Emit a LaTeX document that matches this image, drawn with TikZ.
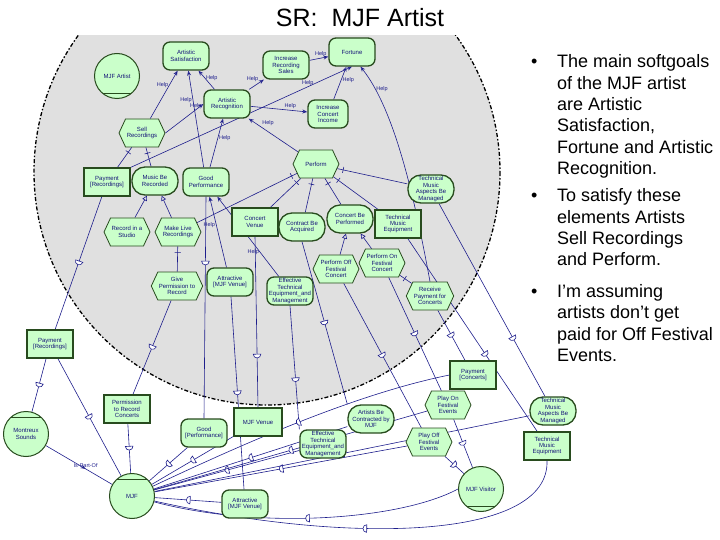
\documentclass[tikz,border=0pt]{standalone}
\usepackage{fontspec}
\setmainfont{Liberation Sans}
\usetikzlibrary{arrows.meta,shapes.symbols,decorations.markings}

\definecolor{nodefill}{RGB}{202,255,202}
\definecolor{nodeline}{RGB}{40,75,30}
\definecolor{nodetext}{RGB}{20,20,120}
\definecolor{linkblue}{RGB}{30,30,140}
\definecolor{bggray}{RGB}{224,224,224}

\pgfdeclarelayer{bg}
\pgfdeclarelayer{links}
\pgfsetlayers{bg,links,main}

\begin{document}
\begin{tikzpicture}[x=1pt, y=-1pt,
  elem/.style={draw=nodeline, fill=nodefill, text=nodetext, align=center, font=\fontsize{6}{6.4}\selectfont, inner sep=1pt, minimum width=46pt, minimum height=28pt},
  softgoal/.style={elem, rectangle, rounded corners=7pt, line width=1.3pt},
  goal/.style={elem, rectangle, rounded corners=13pt, line width=1.3pt},
  resource/.style={elem, rectangle, line width=1.1pt},
  task/.style={elem, signal, signal to=east and west, signal pointer angle=130, line width=0.8pt},
  actor/.style={elem, circle, minimum size=45pt, line width=1pt},
  role/.style={actor, path picture={\draw[draw=nodeline, line width=1pt] ([yshift=5pt]path picture bounding box.south west) -- ([yshift=5pt]path picture bounding box.south east);}},
  agent/.style={actor, path picture={\draw[draw=nodeline, line width=1pt] ([yshift=-6pt]path picture bounding box.north west) -- ([yshift=-6pt]path picture bounding box.north east);}},
  boundary/.style={draw=black, line width=1.3pt, dash pattern=on 4pt off 2pt on 1.5pt off 2pt},
  link/.style={draw=linkblue, line width=0.6pt},
  help/.style={link, -{Stealth[open, length=5pt, width=4pt]}},
  hlab/.style={font=\fontsize{5.5}{6}\selectfont, text=linkblue, inner sep=1pt},
  meansend/.style={link, -{Triangle[open, length=5pt, width=5pt]}},
  decomp/.style={link, postaction={decorate}, decoration={markings, mark=at position 6pt with {\draw[linkblue, line width=0.6pt] (0,-3pt) -- (0,3pt);}}},
  dep/.style={link, postaction={decorate}, decoration={markings, mark=at position #1 with {\draw[linkblue, line width=0.6pt, fill=white] (-2pt,-3.8pt) -- (-2pt,3.8pt) arc[start angle=90, end angle=-90, radius=3.8pt] -- cycle;}}},
  dep/.default=0.5,
  partof/.style={link, postaction={decorate}, decoration={markings, mark=at position 0.6 with {\arrow{Stealth[open, length=5pt, width=4pt]}}}},
  bultext/.style={anchor=base west, font=\fontsize{18}{20}\selectfont, inner sep=0pt}
]
\useasboundingbox (0,0) rectangle (720,540);

% title
\node[font=\fontsize{25}{28}\selectfont] (title) at (360,18) {SR:\ \ MJF Artist};

% actor boundary of the MJF Artist
\begin{pgfonlayer}{bg}
  \begin{scope}
    \clip (0,36) rectangle (720,540);
    \fill[bggray] (267,172) circle[radius=233];
    \draw[boundary] (267,172) circle[radius=233];
  \end{scope}
\end{pgfonlayer}

% actors
\node[role] (artist) at (117,76) {MJF Artist};
\node[agent] (sounds) at (26,434) {Montreux\\Sounds};
\node[agent] (mjf) at (132,496) {MJF};
\node[role] (visitor) at (481,489) {MJF Visitor};

% softgoals inside
\node[softgoal] (satis) at (186,56) {Artistic\\Satisfaction};
\node[softgoal] (incsales) at (286,65) {Increase\\Recording\\Sales};
\node[softgoal] (fortune) at (352,52) {Fortune};
\node[softgoal] (recog) at (227,104) {Artistic\\Recognition};
\node[softgoal, minimum width=40pt] (incinc) at (328,114) {Increase\\Concert\\Income};
\node[softgoal] (goodperf) at (206,182) {Good\\Performance};
\node[softgoal] (attrin) at (230,282) {Attractive\\{[MJF Venue]}};
\node[softgoal] (effin) at (290,291) {Effective\\Technical\\Equipment\_and\\Management};

% goals inside
\node[goal] (musicrec) at (155,181) {Music Be\\Recorded};
\node[goal] (contract) at (302,227) {Contract Be\\Acquired};
\node[goal] (concperf) at (350,219) {Concert Be\\Performed};
\node[goal] (techasp) at (431,189) {Technical\\Music\\Aspects Be\\Managed};

% tasks inside
\node[task] (sell) at (142,133) {Sell\\Recordings};
\node[task] (perform) at (316,164) {Perform};
\node[task] (studio) at (127,232) {Record in a\\Studio};
\node[task] (live) at (178,232) {Make Live\\Recordings};
\node[task] (permit) at (177,286) {Give\\Permission to\\Record};
\node[task] (offconc) at (336,269) {Perform Off\\Festival\\Concert};
\node[task] (onconc) at (382,263) {Perform On\\Festival\\Concert};
\node[task] (recpay) at (430,296) {Receive\\Payment for\\Concerts};

% resources inside
\node[resource] (payrec) at (107,182) {Payment\\{[Recordings]}};
\node[resource] (venue) at (255,222) {Concert\\Venue};
\node[resource] (techeq) at (398,224) {Technical\\Music\\Equipment};

% dependums
\node[resource] (payrecd) at (50,344) {Payment\\{[Recordings]}};
\node[resource] (permd) at (127,409) {Permission\\to Record\\Concerts};
\node[softgoal] (goodd) at (204,433) {Good\\{[Performance]}};
\node[resource, minimum width=48pt] (venued) at (258,422) {MJF Venue};
\node[softgoal] (attrd) at (245,504) {Attractive\\{[MJF Venue]}};
\node[softgoal] (effd) at (323,444) {Effective\\Technical\\Equipment\_and\\Management};
\node[goal] (contrd) at (371,419) {Artists Be\\Contracted by\\MJF};
\node[resource] (payconcd) at (473,375) {Payment\\{[Concerts]}};
\node[task] (playon) at (448,405) {Play On\\Festival\\Events};
\node[task] (playoff) at (429,442) {Play Off\\Festival\\Events};
\node[goal] (techaspd) at (553,411) {Technical\\Music\\Aspects Be\\Managed};
\node[resource] (techeqd) at (547,446) {Technical\\Music\\Equipment};

\begin{pgfonlayer}{links}
% contributions
\draw[help] (recog) -- node[hlab, pos=0.6, right] {Help} (satis);
\draw[help] (recog) -- node[hlab, pos=0.7, above left] {Help} (incsales);
\draw[help] (incsales) -- node[hlab, pos=0.6, above] {Help} (fortune);
\draw[help] (incinc) -- node[hlab, pos=0.6, right] {Help} (fortune);
\draw[help] (recog) -- node[hlab, pos=0.7, above] {Help} (incinc);
\draw[help] (goodperf) -- node[hlab, pos=0.6, right] {Help} (recog);
\draw[help] (perform) -- node[hlab, pos=0.75, above right] {Help} (recog);
\draw[help] (payrec.north east) -- node[hlab, pos=0.8, above] {Help} (fortune.south);
\draw[help] (sell) -- node[hlab, pos=0.7, left] {Help} (satis);
\draw[help] (sell.east) -- node[hlab, pos=0.8, above] {Help} (recog.west);
\draw[help] (goodperf) -- node[hlab, pos=0.7, left] {Help} (satis);
\draw[help] (attrin) -- node[hlab, pos=0.6, left] {Help} (goodperf);
\draw[help] (effin) -- node[hlab, pos=0.3, left] {Help} (goodperf);
\draw[help] (recpay.north) .. controls (415,200) and (395,110) .. node[hlab, pos=0.85, right] {Help} (fortune.-60);

% decompositions
\foreach \a/\b in {sell/payrec, sell/musicrec, perform/venue, perform/contract, perform/concperf, perform/techeq, perform/techasp, perform/live, live/permit, onconc/recpay}
  \draw[decomp] (\a) -- (\b);

% means-ends
\foreach \a/\b in {studio/musicrec, live/musicrec, offconc/concperf, onconc/concperf}
  \draw[meansend] (\a) -- (\b);

% dependencies into the dependums
\draw[dep] (payrec) -- (payrecd);
\draw[dep] (permit) -- (permd);
\draw[dep=0.3] (goodperf.south) -- (goodd.north);
\draw[dep=0.7] (venue.south) -- (venued.north);
\draw[dep] (attrin) -- (attrd);
\draw[dep=0.6] (effin.south) -- (effd.north west);
\draw[dep] (contract.south) -- (contrd.north west);
\draw[dep] (recpay) -- (payconcd);
\draw[dep] (onconc) -- (playon);
\draw[dep] (offconc) -- (playoff);
\draw[dep=0.7] (techasp) -- (techaspd);
\draw[dep=0.6] (techeq) -- (techeqd);

% dependencies onto the other actors
\foreach \a/\b in {payrecd/sounds, payrecd/mjf, permd/mjf, goodd/mjf, venued/mjf, attrd/mjf, effd/mjf, contrd/mjf, playon/mjf, playoff/mjf, techaspd/mjf, playon/visitor, playoff/visitor}
  \draw[dep] (\a) -- (\b);
\draw[dep] (payconcd.west) .. controls (350,395) and (230,450) .. (mjf);
\draw[dep] (visitor.west) .. controls (400,520) and (260,530) .. (mjf);
\draw[dep] (techeqd.south) .. controls (550,540) and (350,545) .. (mjf);

% is-part-of
\draw[partof] (sounds) -- node[hlab, pos=0.6, above] {Is-Part-Of} (mjf);
\end{pgfonlayer}

% notes on the right
\foreach \y [count=\i] in {68,202,297}
  \node[bultext] (bullet\i) at (531,\y) {•};
\foreach \t/\y [count=\i] in {The main softgoals/68, of the MJF artist/89.5, are Artistic/111, {Satisfaction,}/132, Fortune and Artistic/153.5, Recognition./175, To satisfy these/202, elements Artists/223, Sell Recordings/244, and Perform./265, I’m assuming/297, artists don’t get/318, paid for Off Festival/340, Events./361}
  \node[bultext] (line\i) at (557,\y) {\t};
\end{tikzpicture}
\end{document}
